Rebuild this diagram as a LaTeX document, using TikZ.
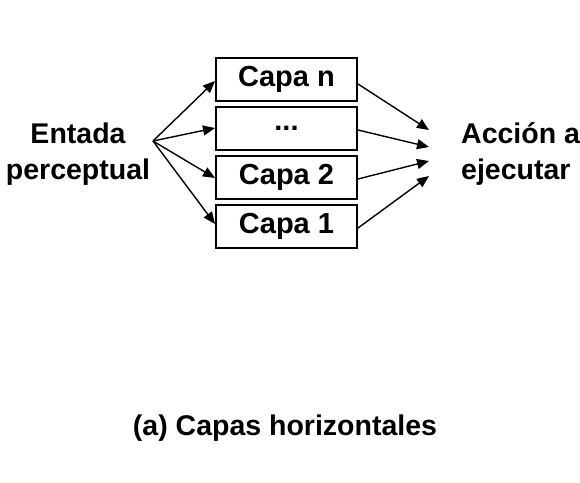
\documentclass[tikz,border=0pt]{standalone}
\usepackage{fontspec}
\setmainfont{Liberation Sans}
\usetikzlibrary{arrows.meta,positioning}
\tikzset{
  % Layer box
  capa/.style={rectangle,draw,line width=2pt,
               minimum width=141pt,minimum height=43pt,
               inner sep=0pt,font=\fontsize{29}{30}\selectfont\bfseries},
  % Arrow
  arr/.style={-{Triangle[length=12pt,width=10pt]},line width=1.4pt},
  % Label text
  lbl/.style={align=center,inner sep=0pt,
              font=\fontsize{28.5}{36}\selectfont\bfseries}
}
\begin{document}
\begin{tikzpicture}[x=1pt,y=-1pt]
  \useasboundingbox[fill=white] (0,0) rectangle (580,482);

  \node[capa] at (286.5,79)        (capaN) {Capa n};
  \node[capa,below=4pt of capaN]  (dots)  {...};
  \node[capa,below=4pt of dots]   (capa2) {Capa 2};
  \node[capa,below=4pt of capa2]  (capa1) {Capa 1};

  \node[lbl] at (78,154)                  (entrada) {Entada\\perceptual};
  \node[lbl,align=left,anchor=west] at (461,154) (accion) {Acción a\\ejecutar};

  \coordinate (src) at (153,141);
  \coordinate (t1) at (429,130);
  \coordinate (t2) at (429,147);
  \coordinate (t3) at (429,161);
  \coordinate (t4) at (429,176);

  \draw[arr] (src) -- ([yshift=-2pt]capaN.west);
  \draw[arr] (src) -- (dots.west);
  \draw[arr] (src) -- ([yshift=-1pt]capa2.west);
  \draw[arr] (src) -- ([yshift=2pt]capa1.west);

  \draw[arr] ([yshift=-5pt]capaN.east) -- (t1);
  \draw[arr] ([yshift=-2pt]dots.east) -- (t2);
  \draw[arr] ([yshift=-2pt]capa2.east) -- (t3);
  \draw[arr] ([yshift=-2pt]capa1.east) -- (t4);

  \node[lbl] at (285,428) (caption) {(a) Capas horizontales};
\end{tikzpicture}
\end{document}
